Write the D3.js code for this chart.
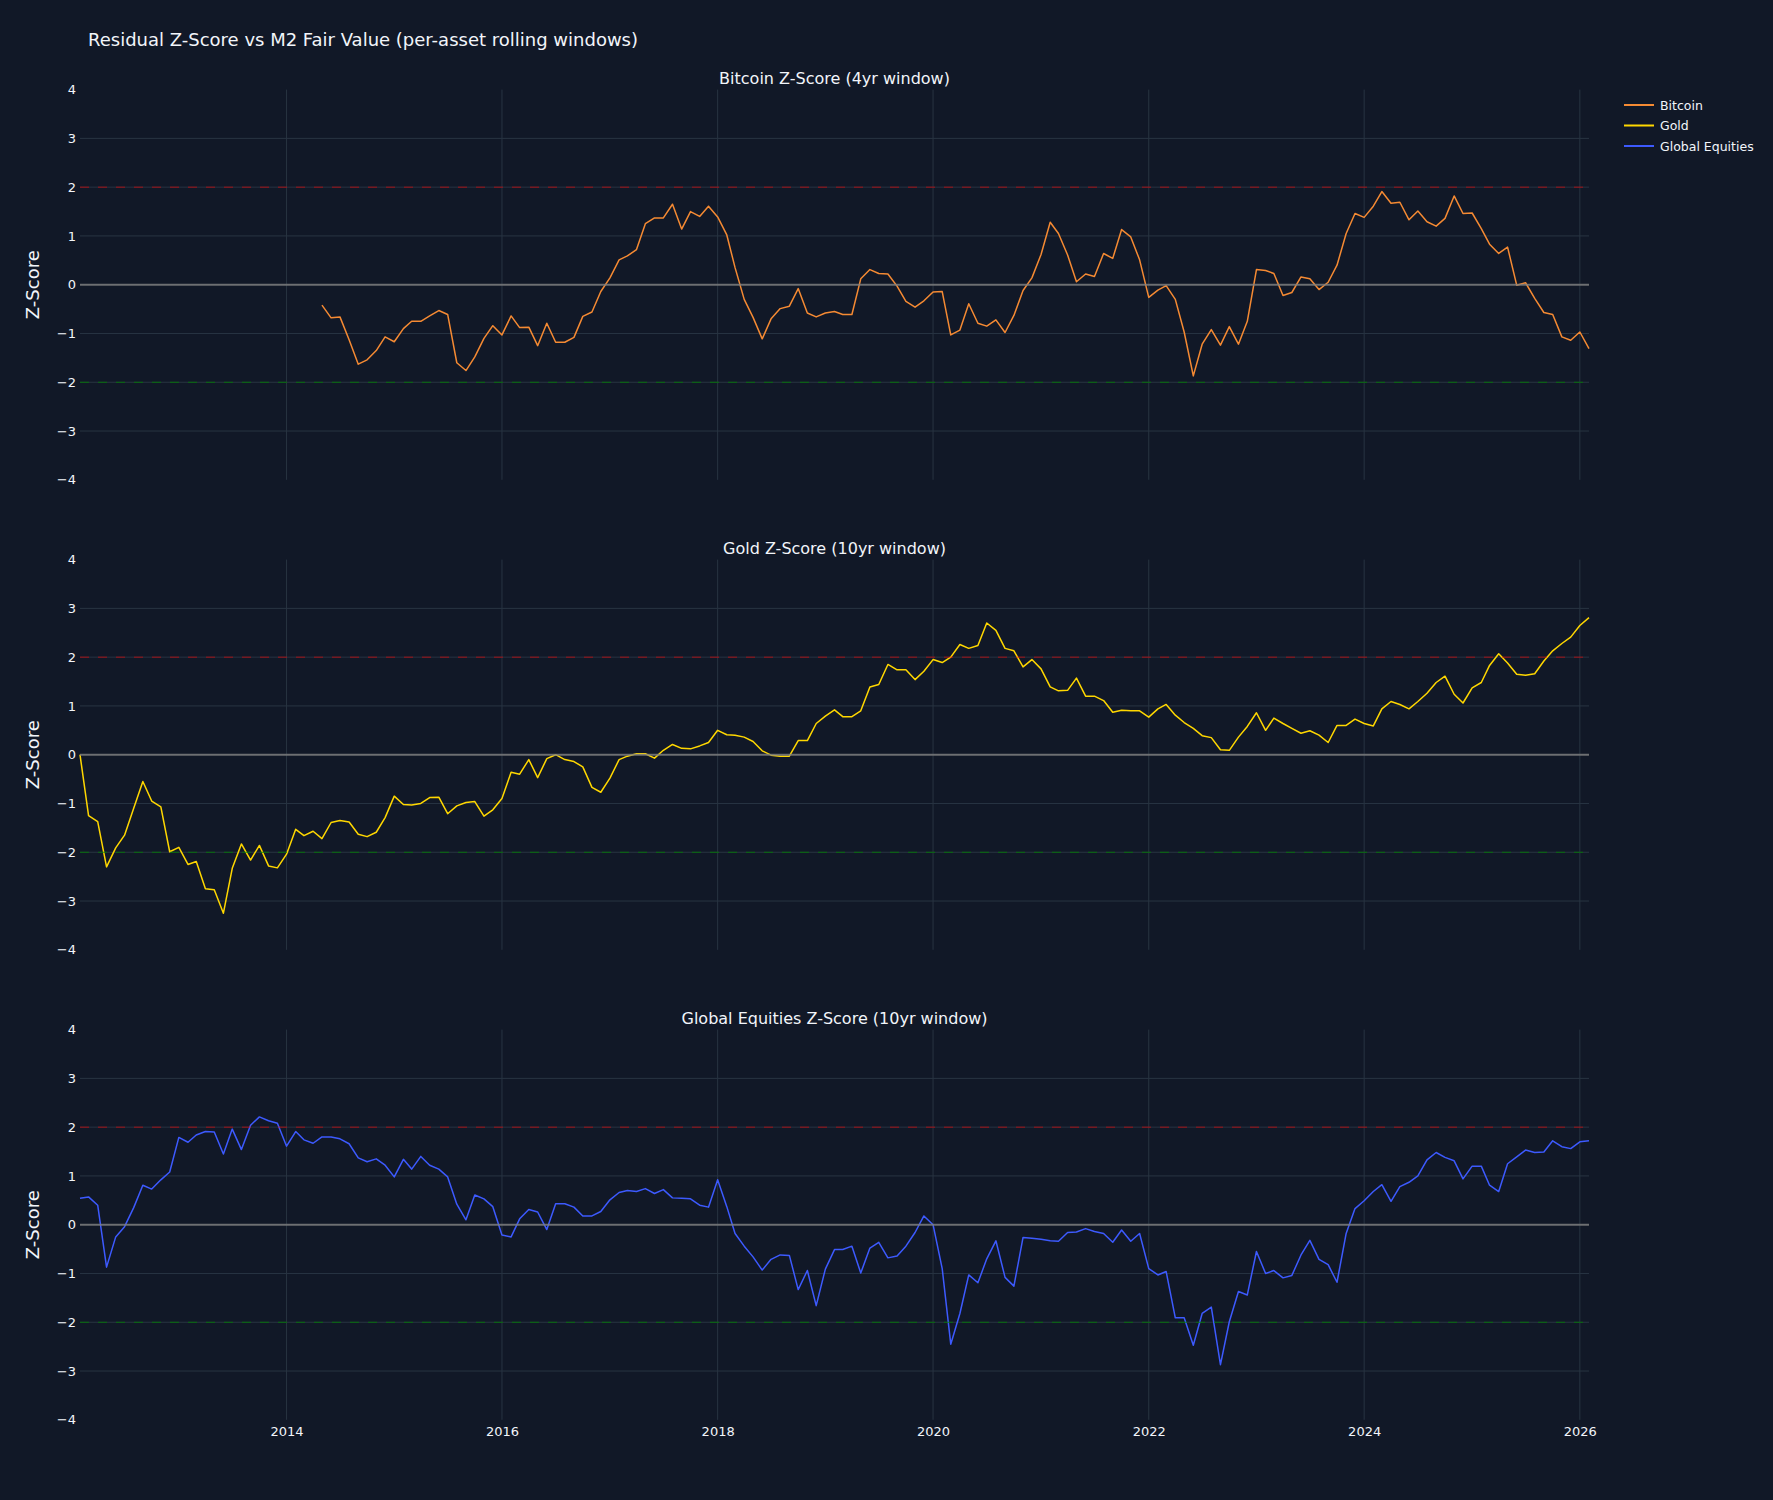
<!DOCTYPE html>
<html>
<head>
<meta charset="utf-8">
<script src="https://cdn.jsdelivr.net/npm/d3@7.9.0/dist/d3.min.js"></script>
<style>
  html, body { margin: 0; padding: 0; background: #111827; }
  svg { display: block; font-family: "DejaVu Sans", Verdana, sans-serif; }
</style>
</head>
<body>
<svg id="chart" width="1773" height="1500"></svg>
<script>
// monthly z-scores, first of each month
const fullStart = "2012-02-01";   // gold + equities start
const btcStart = "2014-05-01";    // bitcoin starts later (4yr window)
const xEnd = "2026-02-01";

const bitcoinZ = [
  -0.42, -0.68, -0.66, -1.13, -1.63, -1.54, -1.35, -1.07,
  -1.17, -0.90, -0.75, -0.75, -0.64, -0.53, -0.61, -1.60, -1.76, -1.48, -1.10, -0.84,
  -1.03, -0.64, -0.88, -0.87, -1.25, -0.79, -1.18, -1.18, -1.08, -0.65, -0.56, -0.14,
  0.14, 0.51, 0.59, 0.72, 1.25, 1.37, 1.37, 1.65, 1.14, 1.50, 1.40, 1.61,
  1.39, 1.02, 0.35, -0.30, -0.67, -1.11, -0.70, -0.49, -0.44, -0.08, -0.58, -0.66,
  -0.58, -0.55, -0.61, -0.61, 0.12, 0.31, 0.23, 0.22, -0.03, -0.34, -0.46, -0.33,
  -0.15, -0.14, -1.03, -0.93, -0.39, -0.79, -0.85, -0.72, -0.98, -0.63, -0.12, 0.14,
  0.62, 1.28, 1.05, 0.61, 0.06, 0.22, 0.17, 0.64, 0.54, 1.13, 0.98, 0.51,
  -0.26, -0.11, -0.02, -0.30, -0.97, -1.87, -1.22, -0.92, -1.24, -0.86, -1.22, -0.75,
  0.31, 0.29, 0.23, -0.22, -0.16, 0.16, 0.12, -0.10, 0.05, 0.40, 1.05, 1.46,
  1.38, 1.61, 1.91, 1.67, 1.69, 1.33, 1.51, 1.29, 1.20, 1.36, 1.82, 1.46,
  1.47, 1.15, 0.83, 0.64, 0.77, -0.01, 0.04, -0.28, -0.57, -0.61, -1.07, -1.14,
  -0.97, -1.31
];

const goldZ = [
  0.00, -1.25, -1.37, -2.30, -1.91, -1.65, -1.10, -0.55, -0.95, -1.07, -1.99,
  -1.90, -2.25, -2.19, -2.75, -2.77, -3.25, -2.33, -1.83, -2.16, -1.86, -2.28, -2.32,
  -2.04, -1.53, -1.66, -1.57, -1.72, -1.39, -1.35, -1.38, -1.63, -1.68, -1.59, -1.29,
  -0.85, -1.02, -1.03, -1.00, -0.88, -0.87, -1.21, -1.05, -0.98, -0.96, -1.26, -1.13,
  -0.90, -0.36, -0.40, -0.10, -0.47, -0.08, 0.00, -0.10, -0.14, -0.25, -0.67, -0.77,
  -0.48, -0.10, -0.03, 0.02, 0.02, -0.07, 0.09, 0.21, 0.13, 0.12, 0.18, 0.25,
  0.50, 0.41, 0.40, 0.36, 0.27, 0.08, -0.01, -0.03, -0.03, 0.29, 0.29, 0.64,
  0.79, 0.92, 0.78, 0.78, 0.90, 1.39, 1.44, 1.85, 1.74, 1.74, 1.54, 1.71,
  1.95, 1.89, 2.00, 2.26, 2.18, 2.24, 2.70, 2.55, 2.18, 2.13, 1.80, 1.95,
  1.76, 1.39, 1.31, 1.32, 1.57, 1.20, 1.20, 1.11, 0.87, 0.91, 0.90, 0.90,
  0.77, 0.94, 1.03, 0.81, 0.66, 0.54, 0.39, 0.35, 0.10, 0.09, 0.36, 0.58,
  0.86, 0.50, 0.75, 0.64, 0.54, 0.44, 0.49, 0.40, 0.25, 0.60, 0.60, 0.73,
  0.64, 0.59, 0.94, 1.09, 1.03, 0.94, 1.09, 1.26, 1.48, 1.61, 1.24, 1.06,
  1.37, 1.48, 1.83, 2.07, 1.88, 1.65, 1.63, 1.66, 1.92, 2.13, 2.28, 2.41,
  2.65, 2.81
];

const equitiesZ = [
  0.54, 0.57, 0.40, -0.87, -0.25, -0.04, 0.35, 0.81, 0.73, 0.92, 1.08,
  1.79, 1.69, 1.84, 1.91, 1.90, 1.45, 1.96, 1.54, 2.04, 2.21, 2.13, 2.08,
  1.61, 1.91, 1.74, 1.67, 1.80, 1.80, 1.76, 1.66, 1.37, 1.29, 1.35, 1.22,
  0.98, 1.34, 1.14, 1.40, 1.22, 1.14, 0.98, 0.42, 0.10, 0.61, 0.53, 0.37,
  -0.21, -0.25, 0.12, 0.31, 0.26, -0.10, 0.43, 0.43, 0.36, 0.18, 0.18, 0.27,
  0.51, 0.66, 0.70, 0.68, 0.74, 0.64, 0.72, 0.55, 0.54, 0.53, 0.40, 0.36,
  0.92, 0.37, -0.18, -0.44, -0.66, -0.93, -0.71, -0.62, -0.63, -1.33, -0.94, -1.66,
  -0.91, -0.51, -0.51, -0.44, -0.99, -0.48, -0.36, -0.68, -0.64, -0.44, -0.16, 0.18,
  0.00, -0.90, -2.45, -1.82, -1.03, -1.19, -0.70, -0.33, -1.08, -1.26, -0.26, -0.28,
  -0.30, -0.33, -0.34, -0.16, -0.15, -0.08, -0.14, -0.18, -0.36, -0.11, -0.34, -0.18,
  -0.90, -1.03, -0.96, -1.91, -1.91, -2.47, -1.82, -1.69, -2.87, -1.99, -1.37, -1.44,
  -0.55, -1.00, -0.94, -1.09, -1.04, -0.62, -0.32, -0.71, -0.82, -1.18, -0.18, 0.33,
  0.49, 0.68, 0.82, 0.48, 0.78, 0.87, 1.00, 1.33, 1.48, 1.38, 1.31, 0.94,
  1.20, 1.20, 0.81, 0.68, 1.25, 1.39, 1.53, 1.48, 1.49, 1.72, 1.60, 1.56,
  1.70, 1.72
];

const seriesNames = ["Bitcoin", "Gold", "Global Equities"];
const seriesColors = ["#F58A33", "#FFD700", "#3D5AFE"];
const panelTitles = [
  "Bitcoin Z-Score (4yr window)",
  "Gold Z-Score (10yr window)",
  "Global Equities Z-Score (10yr window)"
];
const yTicks = [-4, -3, -2, -1, 0, 1, 2, 3, 4];
const xTickYears = [2014, 2016, 2018, 2020, 2022, 2024, 2026];
const bands = [2, -2];   // over / under valued guides

// ---- layout ----
const W = 1773, H = 1500;
const plotLeft = 80, plotRight = 1589;
const panelTop = [89.6, 559.6, 1029.6];
const panelH = 390.2;
const textColor = "#f2f5fa";
const gridColor = "#283442";
const font = "\"DejaVu Sans\", Verdana, sans-serif";

const svg = d3.select("#chart");
svg.append("rect").attr("width", W).attr("height", H).attr("fill", "#111827");

const parse = d3.utcParse("%Y-%m-%d");
const toSeries = (start, vals) =>
  vals.map((v, i) => ({ date: d3.utcMonth.offset(parse(start), i), v }));

const panels = [
  { data: toSeries(btcStart, bitcoinZ) },
  { data: toSeries(fullStart, goldZ) },
  { data: toSeries(fullStart, equitiesZ) }
];

const x = d3.scaleUtc()
  .domain([parse(fullStart), parse(xEnd)])
  .range([plotLeft, plotRight]);
const xTickDates = xTickYears.map(yr => new Date(Date.UTC(yr, 0, 1)));

// main title
svg.append("text")
  .attr("x", 88).attr("y", 46)
  .attr("fill", textColor)
  .attr("font-size", 18)
  .text("Residual Z-Score vs M2 Fair Value (per-asset rolling windows)");

panels.forEach((p, i) => {
  const top = panelTop[i];
  const y = d3.scaleLinear().domain([-4, 4]).range([top + panelH, top]);
  const g = svg.append("g");

  // grid
  g.selectAll(".hgrid")
    .data(yTicks.filter(t => t > -4 && t < 4))
    .join("line")
    .attr("x1", plotLeft).attr("x2", plotRight)
    .attr("y1", d => y(d)).attr("y2", d => y(d))
    .attr("stroke", gridColor).attr("stroke-width", 1);

  g.selectAll(".vgrid")
    .data(xTickDates)
    .join("line")
    .attr("x1", d => x(d)).attr("x2", d => x(d))
    .attr("y1", top).attr("y2", top + panelH)
    .attr("stroke", gridColor).attr("stroke-width", 1);

  // y axis labels
  const yAxis = g.append("g")
    .attr("transform", `translate(${plotLeft},0)`)
    .call(d3.axisLeft(y).tickValues(yTicks).tickSize(0).tickPadding(4));
  yAxis.select(".domain").remove();
  yAxis.selectAll("text")
    .attr("fill", textColor)
    .attr("font-size", 13)
    .attr("font-family", font);

  // y title
  g.append("text")
    .attr("transform", `translate(32,${top + panelH / 2}) rotate(-90)`)
    .attr("text-anchor", "middle")
    .attr("dominant-baseline", "central")
    .attr("fill", textColor)
    .attr("font-size", 18)
    .text("Z-Score");

  // subplot title
  g.append("text")
    .attr("x", (plotLeft + plotRight) / 2)
    .attr("y", top - 6)
    .attr("text-anchor", "middle")
    .attr("fill", textColor)
    .attr("font-size", 16)
    .text(panelTitles[i]);

  // series line
  const line = d3.line()
    .x(d => x(d.date))
    .y(d => y(d.v));
  g.append("path")
    .datum(p.data)
    .attr("d", line)
    .attr("fill", "none")
    .attr("stroke", seriesColors[i])
    .attr("stroke-width", 1.5)
    .attr("stroke-linejoin", "round");

  // reference lines (drawn above like plotly hlines)
  g.append("line")
    .attr("x1", plotLeft).attr("x2", plotRight)
    .attr("y1", y(0)).attr("y2", y(0))
    .attr("stroke", "#808080").attr("stroke-opacity", 0.8)
    .attr("stroke-width", 2);

  g.selectAll(".band")
    .data(bands)
    .join("line")
    .attr("x1", plotLeft).attr("x2", plotRight)
    .attr("y1", d => y(d)).attr("y2", d => y(d))
    .attr("stroke", d => d > 0 ? "red" : "green")
    .attr("stroke-opacity", d => d > 0 ? 0.6 : 0.8)
    .attr("stroke-width", 1)
    .attr("stroke-dasharray", "9,9");

  // x labels only on the bottom panel (shared x)
  if (i === panels.length - 1) {
    const xAxis = g.append("g")
      .attr("transform", `translate(0,${top + panelH})`)
      .call(d3.axisBottom(x).tickValues(xTickDates)
        .tickFormat(d3.utcFormat("%Y")).tickSize(0).tickPadding(7));
    xAxis.select(".domain").remove();
    xAxis.selectAll("text")
      .attr("fill", textColor)
      .attr("font-size", 13)
      .attr("font-family", font);
  }
});

// legend
const legend = svg.append("g").attr("transform", "translate(1624,105)");
seriesNames.forEach((name, i) => {
  const row = legend.append("g").attr("transform", `translate(0,${i * 20.5})`);
  row.append("line")
    .attr("x1", 0).attr("x2", 30)
    .attr("stroke", seriesColors[i]).attr("stroke-width", 2);
  row.append("text")
    .attr("x", 36)
    .attr("dominant-baseline", "central")
    .attr("fill", textColor)
    .attr("font-size", 12.5)
    .text(name);
});
</script>
</body>
</html>
